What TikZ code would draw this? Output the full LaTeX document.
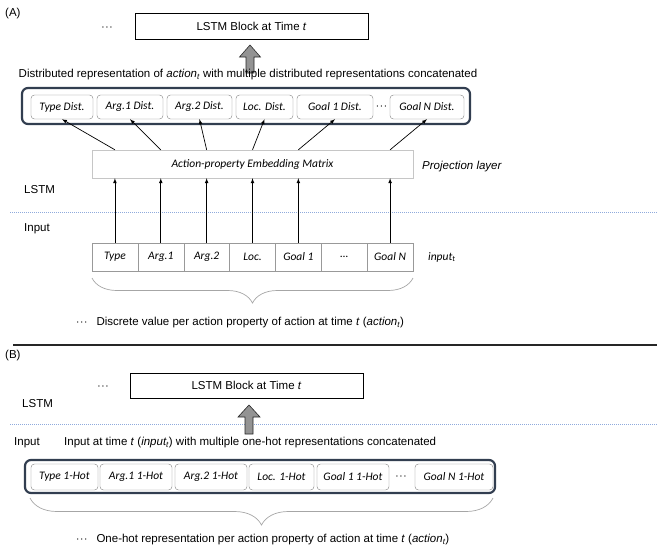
\documentclass[tikz,border=0pt]{standalone}
\usepackage{fontspec}
\setmainfont{Liberation Sans}
\newfontfamily\calibfont{Carlito}
\usetikzlibrary{decorations.pathreplacing}

\definecolor{framenavy}{RGB}{50,62,80}
\definecolor{dashblue}{RGB}{143,170,220}

\tikzset{
  plain/.style={font=\fontsize{11.5}{13}\selectfont, inner sep=0pt},
  calib/.style={font=\calibfont\itshape\fontsize{11.5}{13}\selectfont},
  blockbox/.style={draw, line width=0.8pt, minimum width=233pt, minimum height=26pt, plain},
  propbox/.style={draw=gray, rounded corners=3.5pt, minimum height=24pt, inner sep=0pt, calib},
  outerframe/.style={draw=framenavy, line width=2.2pt, rounded corners=6pt},
  cell/.style={draw=gray!80, minimum width=45.86pt, minimum height=28pt, inner sep=0pt, calib},
  projbox/.style={draw=gray!45, minimum width=321pt, minimum height=28pt, inner sep=0pt, calib},
  sepline/.style={draw=dashblue, line width=0.6pt, dash pattern=on 1pt off 1pt},
  thinarrow/.style={-latex, line width=0.7pt},
  greyarrow/.style={fill=gray!85, draw=gray!30!black, line width=0.6pt},
  curlybrace/.style={draw=gray!70, line width=0.7pt, decorate, decoration={brace, mirror, amplitude=25pt}}
}

\newcommand{\dotrow}{$\cdot\!\cdot\!\cdot$}

\begin{document}
\begin{tikzpicture}[x=1pt, y=-1pt]
\useasboundingbox (0,0) rectangle (657,552);

% ---- (A) ----
\node[plain, anchor=west] (tagA) at (5,14) {(A)};
\node[plain] (dotsA) at (107,28) {\dotrow};
\node[blockbox] (lstmA) at (251.5,26) {LSTM Block at Time \textit{t}};
\begin{scope}[shift={(250,45)}]
\draw[greyarrow] (0,0) -- (10.5,12) -- (4,12) -- (4,28) -- (-4,28) -- (-4,12) -- (-10.5,12) -- cycle;
\end{scope}
\node[plain] (distcap) at (248,75) {Distributed representation of \textit{action\textsubscript{t}} with multiple distributed representations concatenated};

\node[outerframe, minimum width=448pt, minimum height=36pt] (distframe) at (246,106) {};
\foreach \c/\w/\t [count=\i] in {62/62/Type Dist., 130/66/Arg.1 Dist., 199.5/65/Arg.2 Dist.,
    264.5/57/Loc. Dist., 335/76/Goal 1 Dist., 427/74/Goal N Dist.}
  \node[propbox, minimum width=\w] (dist\i) at (\c,107) {\t};
\node[plain] (distdots) at (381.5,107) {\dotrow};

\node[projbox] (proj) at (252.5,164) {Action-property Embedding Matrix};
\node[plain, anchor=west] (projlab) at (422,167) {\textit{Projection layer}};

\node[plain, anchor=west] (lstmlabA) at (24,190) {LSTM};
\draw[sepline] (10,212) -- (657,212);
\node[plain, anchor=west] (inputlabA) at (24,229) {Input};

\foreach \t [count=\i] in {Type,Arg.1,Arg.2,Loc.,Goal 1,\ldots,Goal N}
  \node[cell] (cell\i) at ({92+(\i-0.5)*45.86},257) {\t};
\node[anchor=west, inner sep=0pt, calib] (inputt) at (428,257) {input\textsubscript{t}};

\foreach \i/\j in {1/1,2/2,3/3,4/4,5/5,7/6} {
  \draw[thinarrow] (cell\i.north) -- (cell\i.north |- proj.south);
  \draw[thinarrow] (cell\i.north |- proj.north) -- (dist\j.south);
}

\coordinate (braceAl) at (92,278);
\coordinate (braceAr) at (413,278);
\draw[curlybrace] (braceAl) -- (braceAr);
\node[plain, anchor=west] (discrete) at (76,323) {\dotrow\hspace{9pt}Discrete value per action property of action at time \textit{t} (\textit{action\textsubscript{t}})};

\draw[line width=1.3pt, draw=black!85] (13,345) -- (657,345);

% ---- (B) ----
\node[plain, anchor=west] (tagB) at (5,356) {(B)};
\node[plain] (dotsB) at (103,387) {\dotrow};
\node[blockbox, minimum height=25pt] (lstmB) at (246.5,385.5) {LSTM Block at Time \textit{t}};
\node[plain, anchor=west] (lstmlabB) at (22,404) {LSTM};
\draw[sepline] (10,424) -- (657,424);
\begin{scope}[shift={(249,405)}]
\draw[greyarrow] (0,0) -- (11,12) -- (4,12) -- (4,29) -- (-4,29) -- (-4,12) -- (-11,12) -- cycle;
\end{scope}
\node[plain, anchor=west] (inputlabB) at (14,443) {Input};
\node[plain, anchor=west] (hotcap) at (64,443) {Input at time \textit{t} (\textit{input\textsubscript{t}}) with multiple one-hot representations concatenated};

\node[outerframe, minimum width=470pt, minimum height=33pt] (hotframe) at (260,476.5) {};
\foreach \c/\w/\t [count=\i] in {64.5/67/Type 1-Hot, 136/72/Arg.1 1-Hot, 211/72/Arg.2 1-Hot,
    281.5/65/Loc. 1-Hot, 353/72/Goal 1 1-Hot, 454/78/Goal N 1-Hot}
  \node[propbox, minimum width=\w, minimum height=26pt] (hot\i) at (\c,477) {\t};
\node[plain] (hotdots) at (401,477) {\dotrow};

\coordinate (braceBl) at (30,498);
\coordinate (braceBr) at (493,498);
\draw[curlybrace, decoration={amplitude=27pt}] (braceBl) -- (braceBr);
\node[plain, anchor=west] (onehot) at (76,540) {\dotrow\hspace{9pt}One-hot representation per action property of action at time \textit{t} (\textit{action\textsubscript{t}})};
\end{tikzpicture}
\end{document}
